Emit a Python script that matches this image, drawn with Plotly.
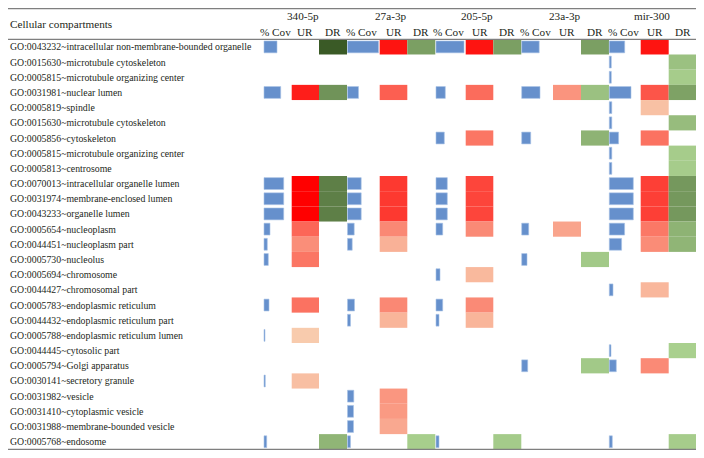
import plotly.graph_objects as go

# ---------------- data ----------------
terms = [
    "GO:0043232~intracellular non-membrane-bounded organelle",
    "GO:0015630~microtubule cytoskeleton",
    "GO:0005815~microtubule organizing center",
    "GO:0031981~nuclear lumen",
    "GO:0005819~spindle",
    "GO:0015630~microtubule cytoskeleton",
    "GO:0005856~cytoskeleton",
    "GO:0005815~microtubule organizing center",
    "GO:0005813~centrosome",
    "GO:0070013~intracellular organelle lumen",
    "GO:0031974~membrane-enclosed lumen",
    "GO:0043233~organelle lumen",
    "GO:0005654~nucleoplasm",
    "GO:0044451~nucleoplasm part",
    "GO:0005730~nucleolus",
    "GO:0005694~chromosome",
    "GO:0044427~chromosomal part",
    "GO:0005783~endoplasmic reticulum",
    "GO:0044432~endoplasmic reticulum part",
    "GO:0005788~endoplasmic reticulum lumen",
    "GO:0044445~cytosolic part",
    "GO:0005794~Golgi apparatus",
    "GO:0030141~secretory granule",
    "GO:0031982~vesicle",
    "GO:0031410~cytoplasmic vesicle",
    "GO:0031988~membrane-bounded vesicle",
    "GO:0005768~endosome",
]

mirnas = ["340-5p", "27a-3p", "205-5p", "23a-3p", "mir-300"]
sub_labels = ["% Cov", "UR", "DR"]

N = None
# % coverage (relative bar length), up-regulated and down-regulated enrichment intensity (0-1)
cov_340 = [13, N, N, 16.7, N, N, N, N, N, 19.7, 19.7, 19.7, 6, 3.3, 4.3, N, N, 5, N, 1, N, N, 1.3, N, N, N, 2.7]
ur_340  = [N, N, N, 0.85, N, N, N, N, N, 1.0, 1.0, 1.0, 0.5, 0.3, 0.42, N, N, 0.44, N, 0.0, N, N, 0.06, N, N, N, N]
dr_340  = [0.97, N, N, 0.5, N, N, N, N, N, 0.66, 0.66, 0.66, N, N, N, N, N, N, N, N, N, N, N, N, N, N, 0.22]

cov_27a = [31, N, N, 11, N, N, N, N, N, 13.7, 13.7, 13.7, 6.7, 4.7, N, N, N, 7, 3, N, N, N, N, 6.3, 6, 6, 3]
ur_27a  = [0.9, N, N, 0.53, N, N, N, N, N, 0.72, 0.72, 0.72, 0.33, 0.13, N, N, N, 0.33, 0.11, N, N, N, N, 0.26, 0.24, 0.17, N]
dr_27a  = [0.4, N, N, N, N, N, N, N, N, N, N, N, N, N, N, N, N, N, N, N, N, N, N, N, N, N, 0.02]

cov_205 = [28, N, N, 9.3, N, N, 8.3, N, N, 11.3, 11.3, 11.3, 6.7, N, N, 4, N, 6.7, 3, N, N, N, N, N, N, N, 3]
ur_205  = [0.9, N, N, 0.47, N, N, 0.42, N, N, 0.66, 0.66, 0.66, 0.32, N, N, 0.09, N, 0.32, 0.11, N, N, N, N, N, N, N, N]
dr_205  = [0.4, N, N, N, N, N, N, N, N, N, N, N, N, N, N, N, N, N, N, N, N, N, N, N, N, N, 0.04]

cov_23a = [17.5, N, N, 18.3, N, N, 9, N, N, N, N, N, 7, N, 5.3, N, N, N, N, N, N, 6, N, N, N, N, N]
ur_23a  = [N, N, N, 0.27, N, N, N, N, N, N, N, N, 0.19, N, N, N, N, N, N, N, N, N, N, N, N, N, N]
dr_23a  = [0.4, N, N, 0.12, N, N, 0.24, N, N, N, N, N, N, N, 0.06, N, N, N, N, N, N, 0.06, N, N, N, N, N]

cov_300 = [15.4, 2, 2, 21.7, 2.5, 2.5, 9.3, 2.5, 2.5, 24, 24, 24, 15.3, 12.3, N, N, 3.7, N, N, N, 1.7, 7, N, N, N, N, 3]
ur_300  = [0.9, N, N, 0.58, 0.05, N, 0.44, N, N, 0.69, 0.69, 0.69, 0.41, 0.31, N, N, 0.1, N, N, N, N, 0.32, N, N, N, N, N]
dr_300  = [N, 0.12, 0.03, 0.38, N, 0.16, N, 0.03, 0.03, 0.46, 0.46, 0.46, 0.24, 0.22, N, N, N, N, N, N, 0.0, N, N, N, N, N, 0.03]

cov_data = [cov_340, cov_27a, cov_205, cov_23a, cov_300]
ur_data = [ur_340, ur_27a, ur_205, ur_23a, ur_300]
dr_data = [dr_340, dr_27a, dr_205, dr_23a, dr_300]

# ---------------- layout constants (pixel-like x units) ----------------
W, H = 704, 458
OFF = 8  # page body margin
cov_left = [264.0, 347.5, 436.0, 521.7, 609.3]
ur_left = [291.7, 379.7, 465.7, 553.0, 640.7]
dr_left = [319.0, 407.3, 493.3, 581.0, 668.7]
CELL_W = 28.0
COV_PX = 1.0
ROW_PITCH = 15.185
ROW0_PX = 46.9


def py(px):
    return (px - ROW0_PX) / ROW_PITCH


UR_SCALE = [[0, "#F8CBAD"], [1, "#FF0000"]]
DR_SCALE = [[0, "#A9D08E"], [1, "#375623"]]
COV_COLOR = "#6690CC"
TXT = "#231F20"
FONT = "Liberation Serif"

fig = go.Figure()

for g in range(len(mirnas)):
    rows = [i for i, v in enumerate(cov_data[g]) if v is not None]
    fig.add_trace(go.Bar(
        orientation="h", y=rows, x=[cov_data[g][i] * COV_PX for i in rows],
        base=cov_left[g], width=0.78,
        marker=dict(color=COV_COLOR, line=dict(width=0.6, color="#A9C3E6")),
        hoverinfo="skip"))
    rows = [i for i, v in enumerate(ur_data[g]) if v is not None]
    fig.add_trace(go.Bar(
        orientation="h", y=rows, x=[dr_left[g] - ur_left[g]] * len(rows),
        base=ur_left[g], width=1.0,
        marker=dict(color=[ur_data[g][i] for i in rows], colorscale=UR_SCALE,
                    cmin=0, cmax=1, line=dict(width=0)),
        hoverinfo="skip"))
    rows = [i for i, v in enumerate(dr_data[g]) if v is not None]
    fig.add_trace(go.Bar(
        orientation="h", y=rows, x=[CELL_W] * len(rows),
        base=dr_left[g], width=1.0,
        marker=dict(color=[dr_data[g][i] for i in rows], colorscale=DR_SCALE,
                    cmin=0, cmax=1, line=dict(width=0)),
        hoverinfo="skip"))

annotations = []
for i, t in enumerate(terms):
    annotations.append(dict(x=8, y=i, xref="x", yref="y", text=t, showarrow=False,
                            xanchor="left", yanchor="middle",
                            font=dict(family=FONT, size=9.8, color=TXT)))

annotations.append(dict(x=8, y=py(23.5), xref="x", yref="y", text="Cellular compartments",
                        showarrow=False, xanchor="left", yanchor="middle",
                        font=dict(family=FONT, size=11.2, color=TXT)))

for g, name in enumerate(mirnas):
    annotations.append(dict(x=ur_left[g] + CELL_W / 2 - 3, y=py(16), xref="x", yref="y",
                            text=name, showarrow=False, xanchor="center", yanchor="middle",
                            font=dict(family=FONT, size=11.2, color=TXT)))
    centers = [(cov_left[g] + ur_left[g]) / 2 - 2, ur_left[g] + (dr_left[g] - ur_left[g]) / 2,
               dr_left[g] + CELL_W / 2]
    for c, lab in zip(centers, sub_labels):
        annotations.append(dict(x=c, y=py(32.3), xref="x", yref="y", text=lab,
                                showarrow=False, xanchor="center", yanchor="middle",
                                font=dict(family=FONT, size=11.2, color=TXT)))

shapes = []
for ypx in [6.7, 39.3, 449.3]:
    shapes.append(dict(type="line", xref="x", yref="y", x0=8, x1=697,
                       y0=py(max(ypx, OFF + 0.7)), y1=py(max(ypx, OFF + 0.7)),
                       line=dict(color="#7F7F7F", width=1.3)))

fig.update_layout(
    width=W - OFF, height=H - OFF, autosize=False,
    margin=dict(l=0, r=0, t=0, b=0, pad=0),
    paper_bgcolor="white", plot_bgcolor="white",
    barmode="overlay", showlegend=False,
    xaxis=dict(range=[OFF, W], visible=False, fixedrange=True),
    yaxis=dict(range=[py(H), py(OFF)], visible=False, fixedrange=True),
    annotations=annotations, shapes=shapes,
)

fig.write_html("out.html")
